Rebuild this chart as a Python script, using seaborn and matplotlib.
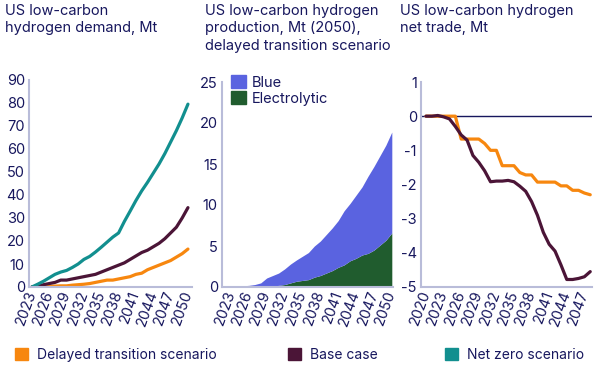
import numpy as np
import pandas as pd
import matplotlib
matplotlib.use("Agg")
import matplotlib.pyplot as plt
from matplotlib.patches import Patch
import seaborn as sns

# ---------------- data ----------------
demand_years = list(range(2023, 2051))
demand_delayed = [0, 0, 0.2, 0.3, 0.4, 0.5, 0.5, 0.8, 1.0, 1.2, 1.5, 2.0, 2.5, 3.0,
                  3.0, 3.5, 4.0, 4.5, 5.5, 6.0, 7.5, 8.5, 9.5, 10.5, 11.5, 13.0, 14.5, 16.5]
demand_base = [0, 0.5, 1.0, 1.5, 2.0, 3.0, 3.0, 3.5, 4.0, 4.5, 5.0, 5.5, 6.5, 7.5,
               8.5, 9.5, 10.5, 12.0, 13.5, 15.0, 16.0, 17.5, 19.0, 21.0, 23.5, 26.0, 30.0, 34.5]
demand_netzero = [0, 1.2, 2.5, 4.0, 5.5, 6.5, 7.2, 8.5, 10.0, 12.0, 13.3, 15.2, 17.3, 19.5,
                  21.7, 23.5, 28.5, 33.0, 37.6, 41.8, 45.5, 49.5, 53.5, 58.0, 63.0, 68.0, 73.5, 79.5]

prod_years = list(range(2023, 2051))
prod_total = [0.15, 0.15, 0.15, 0.2, 0.3, 0.5, 1.1, 1.4, 1.7, 2.2, 2.8, 3.3, 3.75, 4.2,
              5.0, 5.6, 6.4, 7.2, 8.1, 9.3, 10.2, 11.2, 12.2, 13.5, 14.7, 16.0, 17.3, 18.9]
prod_electrolytic = [0.03, 0.03, 0.03, 0.03, 0.05, 0.05, 0.05, 0.1, 0.2, 0.3, 0.5, 0.7, 0.8, 0.9,
                     1.2, 1.4, 1.7, 2.0, 2.4, 2.7, 3.2, 3.5, 3.9, 4.1, 4.5, 5.1, 5.7, 6.6]
prod_blue = [t - e for t, e in zip(prod_total, prod_electrolytic)]

trade_years = list(range(2020, 2049))
trade_delayed = [0, 0, 0, 0, 0, 0, -0.67, -0.67, -0.67, -0.67, -0.8, -1.0, -1.0, -1.45,
                 -1.45, -1.45, -1.65, -1.72, -1.72, -1.93, -1.93, -1.93, -1.93, -2.04, -2.04,
                 -2.17, -2.17, -2.25, -2.3]
trade_base = [0, 0, 0.02, -0.02, -0.08, -0.3, -0.55, -0.7, -1.15, -1.35, -1.6, -1.92, -1.9,
              -1.9, -1.88, -1.92, -2.05, -2.2, -2.5, -2.9, -3.4, -3.75, -3.95, -4.35, -4.78,
              -4.78, -4.75, -4.7, -4.55]

titles = ["US low-carbon\nhydrogen demand, Mt",
          "US low-carbon hydrogen\nproduction, Mt (2050),\ndelayed transition scenario",
          "US low-carbon hydrogen\nnet trade, Mt"]
scenario_names = ["Delayed transition scenario", "Base case", "Net zero scenario"]

# ---------------- style ----------------
NAVY = "#17175e"
SPINE = "#b9bcd9"
ORANGE = "#f7870f"
PURPLE = "#4b1537"
TEAL = "#128f8f"
BLUE = "#5a63e0"
GREEN = "#205c2e"

sns.set_theme(style="white")
plt.rcParams["font.family"] = ["Inter", "DejaVu Sans"]
plt.rcParams["text.color"] = NAVY
plt.rcParams["axes.labelcolor"] = NAVY
plt.rcParams["xtick.color"] = NAVY
plt.rcParams["ytick.color"] = NAVY

W, H = 600, 370
fig = plt.figure(figsize=(6, 3.7), dpi=100)

def add_ax(x0, x1, ytop, ybot):
    return fig.add_axes([x0 / W, 1 - ybot / H, (x1 - x0) / W, (ybot - ytop) / H])

ax1 = add_ax(29, 192, 80, 287)
ax2 = add_ax(222, 393, 82, 287)
ax3 = add_ax(421, 592, 82, 287)

def style_ax(ax):
    for s in ["top", "right"]:
        ax.spines[s].set_visible(False)
    for s in ["left", "bottom"]:
        ax.spines[s].set_color(SPINE)
        ax.spines[s].set_linewidth(1.5)
    ax.tick_params(axis="both", length=0, labelsize=10.5, colors=NAVY, pad=3)
    ax.set_xlabel("")
    ax.set_ylabel("")
    for lab in ax.get_xticklabels():
        lab.set_rotation(70)
        lab.set_ha("right")
        lab.set_va("center")
        lab.set_rotation_mode("anchor")

# ---- panel 1: demand
df1 = pd.DataFrame({
    "year": demand_years * 3,
    "value": demand_delayed + demand_base + demand_netzero,
    "scenario": [scenario_names[0]] * 28 + [scenario_names[1]] * 28 + [scenario_names[2]] * 28,
})
sns.lineplot(data=df1, x="year", y="value", hue="scenario",
             palette=[ORANGE, PURPLE, TEAL], linewidth=2.3, ax=ax1, legend=False)
ax1.set_xlim(2022.5, 2050.7)
ax1.set_ylim(0, 90)
ax1.set_yticks(range(0, 91, 10))
ax1.set_xticks(range(2023, 2051, 3))
ax1.set_xticklabels([str(y) for y in range(2023, 2051, 3)])
style_ax(ax1)

# ---- panel 2: production stacked area
ax2.stackplot(prod_years, prod_electrolytic, prod_blue, colors=[GREEN, BLUE], linewidth=0)
ax2.set_xlim(2021.5, 2050.2)
ax2.set_ylim(0, 25)
ax2.set_yticks(range(0, 26, 5))
ax2.set_xticks(range(2023, 2051, 3))
ax2.set_xticklabels([str(y) for y in range(2023, 2051, 3)])
style_ax(ax2)
ax2.legend(handles=[Patch(color=BLUE, label="Blue"), Patch(color=GREEN, label="Electrolytic")],
           loc="upper left", bbox_to_anchor=(231.5 / W, 1 - 75 / H),
           bbox_transform=fig.transFigure, frameon=False, fontsize=10.5,
           handlelength=1.0, handleheight=1.0, handletextpad=0.4, labelspacing=0.1,
           borderaxespad=0, borderpad=0, labelcolor=NAVY)

# ---- panel 3: net trade
df3 = pd.DataFrame({
    "year": trade_years * 2,
    "value": trade_delayed + trade_base,
    "scenario": [scenario_names[0]] * len(trade_years) + [scenario_names[1]] * len(trade_years),
})
ax3.axhline(0, color=NAVY, linewidth=1.0, zorder=1)
sns.lineplot(data=df3, x="year", y="value", hue="scenario",
             palette=[ORANGE, PURPLE], linewidth=2.3, ax=ax3, legend=False)
ax3.set_xlim(2019.15, 2048.3)
ax3.set_ylim(-5, 1)
ax3.set_yticks(range(-5, 2))
ax3.set_yticklabels([str(v) for v in range(-5, 2)])
ax3.set_xticks(range(2020, 2048, 3))
ax3.set_xticklabels([str(y) for y in range(2020, 2048, 3)])
style_ax(ax3)

# ---- titles
for x, t in zip([5, 205, 400], titles):
    fig.text(x / W, 1 - 4 / H, t, ha="left", va="top", fontsize=10.5,
             linespacing=1.3, color=NAVY)

# ---- bottom legend (three entries at fixed positions)
for c, n, x in zip([ORANGE, PURPLE, TEAL], scenario_names, [15, 288, 445]):
    fig.legend(handles=[Patch(color=c, label=n)], loc="center left",
               bbox_to_anchor=(x / W, 1 - 355 / H), bbox_transform=fig.transFigure,
               frameon=False, fontsize=10, handlelength=0.95, handleheight=1.0,
               handletextpad=0.65, borderaxespad=0, borderpad=0, labelcolor=NAVY)

fig.savefig("out.png", dpi=100)
